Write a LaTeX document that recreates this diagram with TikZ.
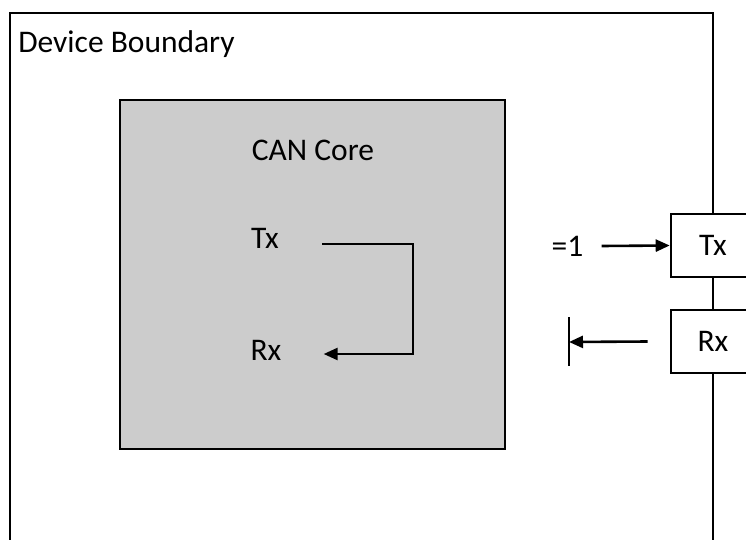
\documentclass[tikz,border=0pt]{standalone}
\usepackage{fontspec}
\setmainfont{Carlito}
\usetikzlibrary{arrows.meta}
\definecolor{coregray}{HTML}{CCCCCC}
\begin{document}
\begin{tikzpicture}[x=1pt, y=-1pt, line width=2.6pt,
	>={Triangle[length=14pt,width=12pt]},
	txt/.style={inner sep=0pt, font=\fontsize{31.5}{37}\selectfont},
	pinbox/.style={draw, fill=white, minimum width=84pt, minimum height=63pt, inner sep=0pt, font=\fontsize{31.5}{37}\selectfont}]
	\useasboundingbox (0,0) rectangle (746,540);
	\clip (0,0) rectangle (746,540);
	% pins on the boundary
	\node[pinbox] (txbox) at (713,245.5) {Tx};
	\node[pinbox] (rxbox) at (713,341.5) {Rx};
	% device boundary (open at the bottom)
	\coordinate (bl) at (10,545);
	\coordinate (tl) at (10,13);
	\coordinate (tr) at (713,13);
	\coordinate (br) at (713,545);
	\draw (bl) -- (tl) -- (tr) -- (txbox.north);
	\draw (txbox.south) -- (rxbox.north);
	\draw (rxbox.south) -- (br);
	\node[txt, anchor=base west] (devlabel) at (17,53) {Device Boundary};
	% CAN core
	\node[draw, fill=coregray, minimum width=385pt, minimum height=349pt] (core) at (312.5,274.5) {};
	\node[txt] (corelabel) at (313,150) {CAN Core};
	\node[txt] (txin) at (265,238) {Tx};
	\node[txt] (rxin) at (266,350) {Rx};
	\draw[->, shorten <=42pt, shorten >=41pt] ([yshift=-6pt]txin.east) -- ++(133,0) |- ([yshift=-4pt]rxin.east);
	% outside
	\node[txt] (one) at (567.5,246) {=1};
	\draw[->] ([xshift=17pt]one.east) -- (txbox.west);
	\coordinate (rxend) at (569,342);
	\draw[->] ([xshift=-22pt]rxbox.west) -- (rxend);
	\draw (rxend) ++(0,-25) -- ++(0,49);
\end{tikzpicture}
\end{document}
